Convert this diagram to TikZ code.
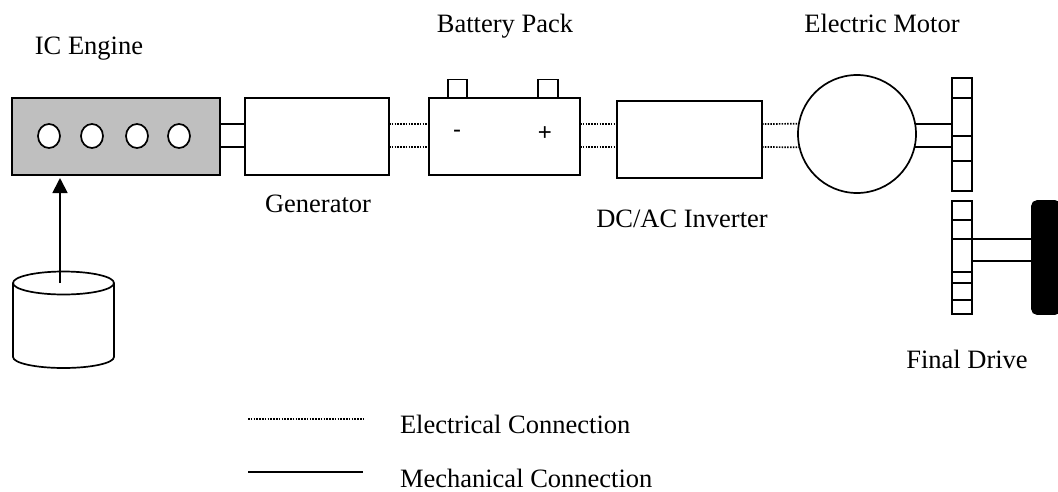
\documentclass[tikz,border=0pt]{standalone}
\usepackage{fontspec}
\setmainfont{Liberation Serif}
\newfontfamily\signfont{Liberation Sans}
\usetikzlibrary{arrows.meta,shapes.geometric}
\begin{document}
\begin{tikzpicture}[x=1pt,y=-1pt,
every node/.style={%
line width=1.7pt,
anchor=center,
outer sep=0pt,
inner sep=0pt,
font=\fontsize{26.5}{30}\selectfont,
},
part/.style={draw,fill=white},
input/.style={draw=none,anchor=base},
sign/.style={draw=none,font=\signfont\fontsize{24}{28}\selectfont},
hole/.style={draw,fill=white,ellipse,minimum width=22pt,minimum height=24pt},
elec/.style={line width=1.7pt,dash pattern=on 1.5pt off 1.3pt},
mech/.style={line width=1.7pt},
arw/.style={-{Triangle[length=15pt,width=15pt]},line width=1.8pt,shorten >=3pt}
]
\useasboundingbox(0,0)rectangle(1058,491);
\coordinate(up)at(0,124);
\coordinate(lo)at(0,147);
\coordinate(axup)at(0,239);
\coordinate(axlo)at(0,261);
\node[part,fill=black!25,minimum height=77pt,minimum width=208pt]at(116,136.5)(eng){};
\foreach\x/\n in{49/a,92/b,137/c,179/d}
\node[hole]at(\x,136)(hole\n){};
\node[part,minimum height=77pt,minimum width=144pt]at(317,136.5)(gen){};
\node[part,minimum height=18pt,minimum width=19pt]at(457.5,88.5)(termneg){};
\node[part,minimum height=18pt,minimum width=20pt]at(548,88.5)(termpos){};
\node[part,minimum height=77pt,minimum width=151pt]at(504.5,136.5)(batt){};
\node[sign]at(457,134)(neg){-};
\node[sign]at(545,134)(pos){+};
\node[part,minimum height=77pt,minimum width=145pt]at(689.5,139.5)(inv){};
\node[part,circle,minimum size=118pt]at(857,134)(mot){};
\node[part,minimum height=113pt,minimum width=20pt]at(962,134.5)(gearup){};
\node[part,minimum height=113pt,minimum width=20pt]at(962,257.5)(gearlo){};
\node[draw,fill=black,rounded corners=5pt,minimum height=113pt,minimum width=28pt]at(1046,257.5)(whl){};
\node[minimum height=74pt,minimum width=101pt]at(63.5,320)(tank){};
\draw[mech](tank.north west)--(tank.south west)arc[start angle=180,end angle=360,x radius=50.5pt,y radius=11pt]--(tank.north east)arc[start angle=0,end angle=360,x radius=50.5pt,y radius=11.5pt];
\coordinate(fuel)at(60,283);
\coordinate(elecl)at(248,419);
\coordinate(elecr)at(363,419);
\coordinate(mechl)at(248,472);
\coordinate(mechr)at(363,472);
\node[input]at(89,54)(lbleng){IC Engine};
\node[input]at(505,32)(lblbatt){Battery Pack};
\node[input]at(882,32)(lblmot){Electric Motor};
\node[input]at(318,212)(lblgen){Generator};
\node[input]at(682,227)(lblinv){DC/AC Inverter};
\node[input]at(967,368)(lblfin){Final Drive};
\node[input,anchor=base west]at(400,433)(lblelec){Electrical Connection};
\node[input,anchor=base west]at(400,487)(lblmech){Mechanical Connection};
\foreach\y in{98,136,161}
\draw[mech,line width=1.3pt](gearup.west|-0,\y)--(gearup.east|-0,\y);
\foreach\y in{220,239,272,283,300}
\draw[mech,line width=1.3pt](gearlo.west|-0,\y)--(gearlo.east|-0,\y);
\draw[mech](eng.east|-up)--(gen.west|-up);
\draw[mech](eng.east|-lo)--(gen.west|-lo);
\draw[elec](gen.east|-up)--(batt.west|-up);
\draw[elec](gen.east|-lo)--(batt.west|-lo);
\draw[elec](batt.east|-up)--(inv.west|-up);
\draw[elec](batt.east|-lo)--(inv.west|-lo);
\draw[elec](inv.east|-up)--(mot.170);
\draw[elec](inv.east|-lo)--(mot.193);
\draw[mech](mot.10)--(gearup.west|-mot.10);
\draw[mech](mot.-13)--(gearup.west|-mot.-13);
\draw[mech](gearlo.east|-axup)--(whl.west|-axup);
\draw[mech](gearlo.east|-axlo)--(whl.west|-axlo);
\draw[arw](fuel)--(eng.south-|fuel);
\draw[elec](elecl)--(elecr);
\draw[mech](mechl)--(mechr);
\end{tikzpicture}
\end{document}
